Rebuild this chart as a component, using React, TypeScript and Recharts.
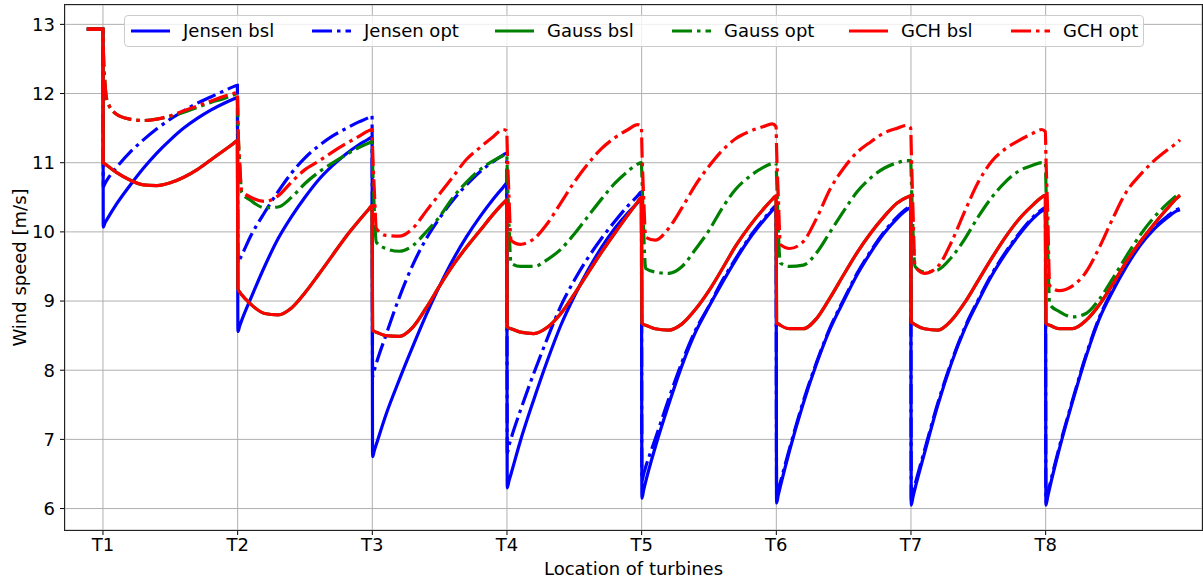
import { LineChart, Line, XAxis, YAxis, CartesianGrid } from 'recharts';

const turbines = ['T1', 'T2', 'T3', 'T4', 'T5', 'T6', 'T7', 'T8'];
const turbinePos = [1, 2, 3, 4, 5, 6, 7, 8];
const speedTicks = [6, 7, 8, 9, 10, 11, 12, 13];

// free stream ahead of T1
const leadX = [0.88, 1.0];
const freeStream = 12.93;

// sample spots behind each turbine, as a fraction of the spacing
const steps = [0.002, 0.015, 0.03, 0.1, 0.2, 0.3, 0.4, 0.5, 0.6, 0.7, 0.8, 0.9, 0.97, 0.998];

// one row per turbine wake (T1..T8)
const jensenBsl = [
  [10.07, 10.13, 10.18, 10.4, 10.67, 10.92, 11.14, 11.33, 11.5, 11.64, 11.76, 11.86, 11.92, 11.94],
  [8.56, 8.64, 8.72, 9.05, 9.5, 9.9, 10.22, 10.5, 10.75, 10.95, 11.12, 11.26, 11.34, 11.37],
  [6.75, 6.84, 6.93, 7.35, 7.86, 8.34, 8.8, 9.22, 9.6, 9.93, 10.22, 10.48, 10.64, 10.7],
  [6.3, 6.4, 6.5, 6.98, 7.58, 8.14, 8.65, 9.07, 9.44, 9.77, 10.05, 10.28, 10.42, 10.47],
  [6.15, 6.27, 6.39, 6.88, 7.5, 8.07, 8.55, 8.92, 9.27, 9.6, 9.9, 10.15, 10.31, 10.37],
  [6.08, 6.2, 6.32, 6.85, 7.52, 8.1, 8.6, 9.0, 9.38, 9.7, 9.98, 10.2, 10.32, 10.35],
  [6.05, 6.17, 6.29, 6.8, 7.5, 8.1, 8.6, 9.0, 9.37, 9.68, 9.95, 10.18, 10.3, 10.33],
  [6.05, 6.17, 6.3, 6.85, 7.55, 8.2, 8.75, 9.15, 9.5, 9.8, 10.03, 10.2, 10.3, 10.32],
];

const jensenOpt = [
  [10.65, 10.7, 10.75, 10.93, 11.15, 11.33, 11.49, 11.63, 11.75, 11.86, 11.95, 12.04, 12.1, 12.12],
  [9.55, 9.6, 9.66, 9.95, 10.28, 10.58, 10.85, 11.07, 11.24, 11.38, 11.49, 11.59, 11.65, 11.68],
  [7.9, 8.0, 8.1, 8.5, 9.05, 9.52, 9.9, 10.2, 10.46, 10.68, 10.87, 11.02, 11.11, 11.14],
  [6.8, 6.91, 7.01, 7.42, 7.96, 8.46, 8.93, 9.3, 9.62, 9.9, 10.15, 10.38, 10.52, 10.58],
  [6.4, 6.5, 6.6, 7.0, 7.58, 8.12, 8.58, 8.93, 9.3, 9.62, 9.92, 10.17, 10.33, 10.38],
  [6.15, 6.27, 6.38, 6.88, 7.55, 8.12, 8.62, 9.02, 9.4, 9.72, 10.0, 10.22, 10.34, 10.37],
  [6.12, 6.24, 6.35, 6.84, 7.53, 8.12, 8.62, 9.02, 9.39, 9.7, 9.97, 10.2, 10.32, 10.35],
  [6.1, 6.22, 6.34, 6.88, 7.57, 8.22, 8.77, 9.17, 9.52, 9.82, 10.05, 10.22, 10.32, 10.34],
];

const gchBsl = [
  [11.0, 10.98, 10.96, 10.86, 10.75, 10.68, 10.67, 10.71, 10.79, 10.9, 11.04, 11.18, 11.28, 11.32],
  [9.18, 9.13, 9.09, 8.95, 8.82, 8.8, 8.9, 9.12, 9.38, 9.65, 9.92, 10.16, 10.32, 10.38],
  [8.58, 8.56, 8.55, 8.5, 8.49, 8.62, 8.9, 9.22, 9.52, 9.78, 10.02, 10.26, 10.41, 10.46],
  [8.63, 8.61, 8.6, 8.55, 8.53, 8.62, 8.82, 9.1, 9.4, 9.7, 9.98, 10.25, 10.43, 10.5],
  [8.68, 8.66, 8.65, 8.6, 8.58, 8.67, 8.88, 9.15, 9.47, 9.8, 10.08, 10.32, 10.47, 10.52],
  [8.68, 8.67, 8.65, 8.6, 8.6, 8.75, 9.05, 9.38, 9.7, 9.98, 10.22, 10.42, 10.5, 10.52],
  [8.7, 8.68, 8.66, 8.6, 8.58, 8.72, 8.98, 9.3, 9.62, 9.92, 10.18, 10.38, 10.5, 10.53],
  [8.68, 8.66, 8.65, 8.6, 8.6, 8.72, 8.95, 9.25, 9.57, 9.85, 10.1, 10.33, 10.48, 10.53],
];

// Gauss bsl lies exactly under GCH bsl in the figure
const gaussBsl = gchBsl;

const gaussOpt = [
  [12.7, 12.15, 11.9, 11.7, 11.63, 11.61, 11.63, 11.67, 11.73, 11.8, 11.87, 11.93, 11.98, 12.0],
  [11.6, 11.0, 10.57, 10.45, 10.35, 10.36, 10.5, 10.7, 10.86, 10.99, 11.11, 11.22, 11.28, 11.3],
  [11.0, 10.3, 9.85, 9.76, 9.72, 9.8, 10.0, 10.22, 10.5, 10.72, 10.9, 11.03, 11.1, 11.12],
  [10.9, 10.1, 9.55, 9.5, 9.5, 9.6, 9.75, 9.97, 10.22, 10.47, 10.7, 10.88, 10.98, 11.0],
  [10.8, 10.0, 9.47, 9.42, 9.4, 9.5, 9.75, 10.02, 10.35, 10.62, 10.8, 10.93, 10.99, 11.0],
  [10.8, 10.0, 9.55, 9.5, 9.52, 9.7, 10.0, 10.3, 10.58, 10.78, 10.92, 11.0, 11.03, 11.03],
  [10.8, 10.0, 9.5, 9.42, 9.45, 9.63, 9.9, 10.22, 10.5, 10.72, 10.88, 10.96, 11.0, 11.0],
  [10.7, 9.8, 8.95, 8.85, 8.77, 8.82, 9.03, 9.33, 9.65, 9.95, 10.2, 10.4, 10.52, 10.56],
];

const gchOpt = [
  [12.7, 12.15, 11.9, 11.7, 11.63, 11.61, 11.63, 11.68, 11.75, 11.82, 11.89, 11.96, 12.0, 12.02],
  [11.6, 11.0, 10.6, 10.5, 10.44, 10.52, 10.72, 10.9, 11.02, 11.15, 11.27, 11.38, 11.46, 11.48],
  [11.2, 10.6, 10.05, 9.95, 9.94, 10.05, 10.3, 10.55, 10.8, 11.05, 11.22, 11.38, 11.48, 11.46],
  [11.2, 10.5, 9.88, 9.82, 9.9, 10.12, 10.42, 10.72, 10.98, 11.2, 11.36, 11.48, 11.55, 11.52],
  [11.2, 10.5, 9.92, 9.88, 10.05, 10.35, 10.68, 10.95, 11.18, 11.35, 11.45, 11.52, 11.56, 11.52],
  [11.2, 10.5, 9.82, 9.76, 9.86, 10.2, 10.62, 10.92, 11.15, 11.3, 11.43, 11.5, 11.54, 11.5],
  [11.2, 10.3, 9.5, 9.4, 9.5, 9.85, 10.3, 10.72, 11.02, 11.2, 11.32, 11.42, 11.48, 11.45],
  [11.1, 10.3, 9.22, 9.15, 9.22, 9.42, 9.78, 10.2, 10.58, 10.82, 11.02, 11.18, 11.28, 11.33],
];

const DASHDOT = '20 5 3.5 5';

const series = [
  { name: 'Jensen bsl', rows: jensenBsl, color: '#0000ff', dash: undefined },
  { name: 'Jensen opt', rows: jensenOpt, color: '#0000ff', dash: DASHDOT },
  { name: 'Gauss bsl', rows: gaussBsl, color: '#008000', dash: undefined },
  { name: 'Gauss opt', rows: gaussOpt, color: '#008000', dash: DASHDOT },
  { name: 'GCH bsl', rows: gchBsl, color: '#ff0000', dash: undefined },
  { name: 'GCH opt', rows: gchOpt, color: '#ff0000', dash: DASHDOT },
];

function toPoints(rows: number[][]) {
  const pts = leadX.map((x) => ({ x, v: freeStream }));
  rows.forEach((row, i) => {
    row.forEach((v, j) => pts.push({ x: turbinePos[i] + steps[j], v }));
  });
  return pts;
}

function YLabel() {
  return (
    <text x={19} y={267.5} transform="rotate(-90 19 267.5)" textAnchor="middle"
      dominantBaseline="central" fontSize={18} fill="#000">
      Wind speed [m/s]
    </text>
  );
}

function LegendBox() {
  // x offsets of each entry inside the frame
  const lefts = [6, 187, 370, 547, 724, 886];
  return (
    <div style={{
      position: 'absolute', left: 124, top: 15, width: 1020, height: 32,
      background: 'rgba(255,255,255,0.8)', border: '1px solid #cccccc', borderRadius: 4,
      boxSizing: 'border-box',
    }}>
      {series.map((s, i) => (
        <div key={s.name} style={{
          position: 'absolute', left: lefts[i], top: 0, height: 30,
          display: 'flex', alignItems: 'center', whiteSpace: 'nowrap',
        }}>
          <svg width={39} height={8}>
            <line x1={0} y1={4} x2={39} y2={4} stroke={s.color} strokeWidth={3.2} strokeDasharray={s.dash} />
          </svg>
          <span style={{ marginLeft: 13, fontSize: 18, color: '#000', lineHeight: '20px' }}>{s.name}</span>
        </div>
      ))}
    </div>
  );
}

export default function App() {
  return (
    <div style={{
      position: 'absolute', left: 0, top: 0, width: 1203, height: 583,
      background: '#fff', fontFamily: '"DejaVu Sans", sans-serif',
    }}>
      <LineChart width={1203} height={583} margin={{ top: 5, right: 1, bottom: 0, left: 0 }}>
        <CartesianGrid stroke="#b0b0b0" strokeWidth={1} />
        <XAxis
          type="number"
          dataKey="x"
          domain={[0.718, 9.161]}
          ticks={turbinePos}
          tickFormatter={(v: number) => turbines[turbinePos.indexOf(v)]}
          allowDataOverflow
          height={53}
          tickSize={5}
          tickMargin={3}
          axisLine={false}
          tickLine={{ stroke: '#000' }}
          tick={{ fill: '#000', fontSize: 18 }}
          label={{ value: 'Location of turbines', position: 'insideBottom', offset: 8, fill: '#000', fontSize: 18 }}
        />
        <YAxis
          type="number"
          domain={[5.69, 13.28]}
          ticks={speedTicks}
          allowDataOverflow
          width={65}
          tickSize={5}
          tickMargin={5}
          axisLine={false}
          tickLine={{ stroke: '#000' }}
          tick={{ fill: '#000', fontSize: 18 }}
          label={YLabel}
        />
        {series.map((s) => (
          <Line
            key={s.name}
            name={s.name}
            data={toPoints(s.rows)}
            dataKey="v"
            type="monotone"
            stroke={s.color}
            strokeWidth={3.2}
            strokeDasharray={s.dash}
            dot={false}
            activeDot={false}
            isAnimationActive={false}
          />
        ))}
      </LineChart>
      <div style={{
        position: 'absolute', left: 64, top: 4, width: 1139, height: 527,
        border: '1px solid #222', boxSizing: 'border-box', pointerEvents: 'none',
      }} />
      <LegendBox />
    </div>
  );
}
